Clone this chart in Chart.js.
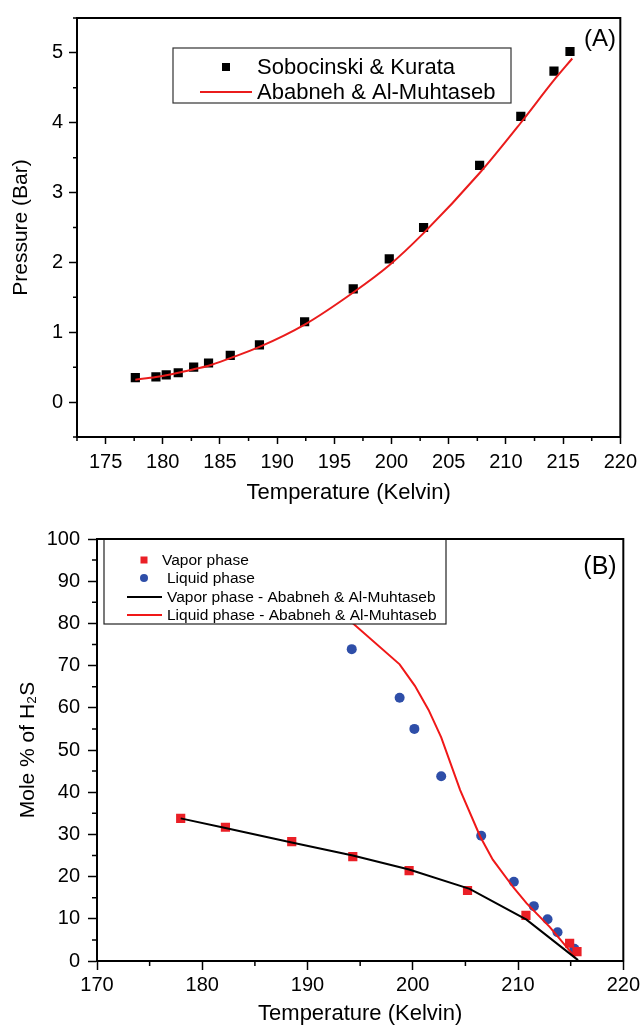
<!DOCTYPE html>
<html>
<head>
<meta charset="utf-8">
<script src="https://cdn.jsdelivr.net/npm/chart.js@4.4.1/dist/chart.umd.min.js"></script>
<style>
  body { margin: 0; background: #fff; }
  #wrapA { position: absolute; left: 0; top: 0; }
  #wrapB { position: absolute; left: 0; top: 510px; }
</style>
</head>
<body>
<div id="wrapA"><canvas id="chartA" width="643" height="510"></canvas></div>
<div id="wrapB"><canvas id="chartB" width="643" height="518"></canvas></div>

<script>
// ---------- (A) vapour pressure of H2S ----------
var tempA  = [177.6, 179.4, 180.3, 181.35, 182.7, 184.0, 185.9, 188.45, 192.4, 196.65, 199.8, 202.8, 207.7, 211.3, 214.2, 215.6];
var pressA = [0.35, 0.36, 0.39, 0.42, 0.50, 0.56, 0.67, 0.82, 1.15, 1.62, 2.05, 2.50, 3.39, 4.09, 4.74, 5.02];
var fitTA  = [177.6, 179.4, 180.3, 181.35, 182.7, 184.0, 185.9, 188.45, 192.4, 196.65, 199.8, 202.8, 207.7, 211.3, 214.2, 215.8];
var fitPA  = [0.32, 0.36, 0.385, 0.42, 0.47, 0.52, 0.63, 0.79, 1.11, 1.57, 1.96, 2.42, 3.28, 4.00, 4.61, 4.92];
var xTicksA = [175, 180, 185, 190, 195, 200, 205, 210, 215, 220];
var xMinorA = [172.5, 177.5, 182.5, 187.5, 192.5, 197.5, 202.5, 207.5, 212.5, 217.5];
var yTicksA = [0, 1, 2, 3, 4, 5];
var yMinorA = [-0.5, 0.5, 1.5, 2.5, 3.5, 4.5, 5.5];
var dataNameA = 'Sobocinski & Kurata';
var fitNameA  = 'Ababneh & Al-Muhtaseb';

// ---------- (B) vapour / liquid composition ----------
var vapT   = [177.95, 182.2, 188.5, 194.3, 199.65, 205.2, 210.75, 214.9, 215.6];
var vapY   = [33.8, 31.7, 28.3, 24.75, 21.4, 16.7, 10.8, 4.2, 2.2];
var liqT   = [194.2, 198.75, 200.15, 202.7, 206.5, 209.6, 211.5, 212.8, 213.75, 215.35];
var liqY   = [73.9, 62.4, 55.0, 43.8, 29.7, 18.8, 13.0, 9.9, 6.8, 2.9];
var vapModT = [177.95, 182.2, 188.5, 194.3, 199.65, 205.4, 210.8, 215.7];
var vapModY = [33.8, 31.5, 28.1, 25.0, 21.7, 17.1, 9.8, 0.2];
var liqModT = [193.0, 198.75, 200.2, 201.5, 202.7, 204.5, 206.4, 207.6, 209.6, 210.8, 213.0, 215.4];
var liqModY = [82.9, 70.3, 65.2, 59.5, 53.0, 40.5, 29.5, 24.0, 17.3, 13.7, 8.1, 1.0];
var xTicksB = [170, 180, 190, 200, 210, 220];
var xMinorB = [175, 185, 195, 205, 215];
var yTicksB = [0, 10, 20, 30, 40, 50, 60, 70, 80, 90, 100];
var yMinorB = [5, 15, 25, 35, 45, 55, 65, 75, 85, 95];
var namesB = ['Vapor phase', 'Liquid phase', 'Vapor phase - Ababneh & Al-Muhtaseb', 'Liquid phase - Ababneh & Al-Muhtaseb'];

var FONT = '"Liberation Sans", Arial, sans-serif';
Chart.defaults.font.family = FONT;
Chart.defaults.color = '#000';

function pts(xs, ys) {
  return xs.map(function (x, i) { return { x: x, y: ys[i] }; });
}
function fixTicks(list) {
  return function (s) { s.ticks = list.map(function (v) { return { value: v }; }); };
}

// box around the plot + short minor ticks
var framePlugin = {
  id: 'frame',
  afterDraw: function (chart, args, o) {
    var ctx = chart.ctx, a = chart.chartArea;
    var sx = chart.scales.x, sy = chart.scales.y;
    ctx.save();
    ctx.strokeStyle = '#000';
    ctx.lineWidth = 2;
    ctx.strokeRect(a.left, a.top, a.right - a.left, a.bottom - a.top);
    ctx.lineWidth = 1.5;
    ctx.beginPath();
    o.xMinor.forEach(function (v) {
      var px = sx.getPixelForValue(v);
      ctx.moveTo(px, a.bottom);
      ctx.lineTo(px, a.bottom + o.len);
    });
    o.yMinor.forEach(function (v) {
      var py = sy.getPixelForValue(v);
      ctx.moveTo(a.left, py);
      ctx.lineTo(a.left - o.len, py);
    });
    ctx.stroke();
    ctx.restore();
  }
};

// boxed legend and panel letter, drawn over the data
var boxLegend = {
  id: 'boxLegend',
  afterDatasetsDraw: function (chart, args, o) {
    var ctx = chart.ctx, b = o.box;
    ctx.save();
    ctx.fillStyle = '#fff';
    ctx.fillRect(b[0], b[1], b[2] - b[0], b[3] - b[1]);
    ctx.strokeStyle = o.edge;
    ctx.lineWidth = 1.2;
    ctx.strokeRect(b[0], b[1], b[2] - b[0], b[3] - b[1]);
    ctx.font = o.font;
    ctx.textBaseline = 'middle';
    ctx.textAlign = 'left';
    o.items.forEach(function (it) {
      ctx.fillStyle = it.color;
      ctx.strokeStyle = it.color;
      if (it.kind === 'rect') {
        ctx.fillRect(it.mx - it.size / 2, it.y - it.size / 2, it.size, it.size);
      } else if (it.kind === 'circle') {
        ctx.beginPath();
        ctx.arc(it.mx, it.y, it.size / 2, 0, Math.PI * 2);
        ctx.fill();
      } else {
        ctx.lineWidth = 2;
        ctx.beginPath();
        ctx.moveTo(it.x1, it.y);
        ctx.lineTo(it.x2, it.y);
        ctx.stroke();
      }
      ctx.fillStyle = '#000';
      ctx.fillText(it.text, it.tx, it.y + 1);
    });
    ctx.font = o.tagFont;
    ctx.textAlign = 'center';
    ctx.fillText(o.tag, o.tagX, o.tagY);
    ctx.restore();
  }
};

function axis(opts) {
  return {
    type: 'linear',
    min: opts.min, max: opts.max,
    afterBuildTicks: fixTicks(opts.ticks),
    afterFit: opts.fit,
    border: { display: true, color: '#000', width: 2 },
    grid: { display: true, drawOnChartArea: false, drawTicks: true, tickLength: opts.tickLen, tickColor: '#000', tickWidth: 1.5 },
    ticks: { color: '#000', font: { size: 20 }, padding: opts.pad, maxRotation: 0, autoSkip: false },
    title: { display: true, text: opts.title, color: '#000', font: { size: opts.titleSize }, padding: opts.titlePad }
  };
}

new Chart(document.getElementById('chartA'), {
  type: 'scatter',
  data: {
    datasets: [
      {
        label: fitNameA, data: pts(fitTA, fitPA), showLine: true, order: 0,
        borderColor: '#ea1c1c', borderWidth: 2, pointRadius: 0, cubicInterpolationMode: 'monotone'
      },
      {
        label: dataNameA, data: pts(tempA, pressA), order: 1,
        pointStyle: 'rect', pointRadius: 6.5, backgroundColor: '#000', borderWidth: 0
      }
    ]
  },
  options: {
    responsive: false, animation: false, events: [],
    layout: { padding: { top: 13, right: 20, left: 0, bottom: 0 } },
    plugins: {
      legend: { display: false }, tooltip: { enabled: false },
      frame: { xMinor: xMinorA, yMinor: yMinorA, len: 4 },
      boxLegend: {
        box: [173, 48, 511, 103], edge: '#333', font: '22px ' + FONT,
        items: [
          { kind: 'rect', color: '#000', mx: 226, y: 67, size: 8, tx: 257, text: dataNameA },
          { kind: 'line', color: '#ea1c1c', x1: 200, x2: 252, y: 92, tx: 257, text: fitNameA }
        ],
        tag: '(A)', tagFont: '24px ' + FONT, tagX: 600, tagY: 39
      }
    },
    scales: {
      x: axis({ min: 172.5, max: 220, ticks: xTicksA, tickLen: 7, pad: 6, title: 'Temperature (Kelvin)', titleSize: 22,
               titlePad: { top: 0, bottom: 4 }, fit: function (s) { s.height = 73; } }),
      y: axis({ min: -0.5, max: 5.5, ticks: yTicksA, tickLen: 8, pad: 6, title: 'Pressure (Bar)', titleSize: 21,
               titlePad: { top: 9, bottom: 0 }, fit: function (s) { s.width = 77; } })
    }
  },
  plugins: [framePlugin, boxLegend]
});

new Chart(document.getElementById('chartB'), {
  type: 'scatter',
  data: {
    datasets: [
      {
        label: namesB[2], data: pts(vapModT, vapModY), showLine: true, order: 0,
        borderColor: '#000', borderWidth: 2, pointRadius: 0
      },
      {
        label: namesB[3], data: pts(liqModT, liqModY), showLine: true, order: 0,
        borderColor: '#f01818', borderWidth: 2, pointRadius: 0
      },
      {
        label: namesB[0], data: pts(vapT, vapY), order: 1,
        pointStyle: 'rect', pointRadius: 6.5, backgroundColor: '#ea1f26', borderWidth: 0
      },
      {
        label: namesB[1], data: pts(liqT, liqY), order: 1,
        pointStyle: 'circle', pointRadius: 5, backgroundColor: '#2e4ea8', borderWidth: 0
      }
    ]
  },
  options: {
    responsive: false, animation: false, events: [],
    layout: { padding: { top: 29, right: 19, left: 0, bottom: 0 } },
    plugins: {
      legend: { display: false }, tooltip: { enabled: false },
      frame: { xMinor: xMinorB, yMinor: yMinorB, len: 5 },
      boxLegend: {
        box: [104, 29, 446, 114], edge: '#222', font: '15.5px ' + FONT,
        items: [
          { kind: 'rect', color: '#ea1f26', mx: 144, y: 50, size: 7, tx: 162, text: namesB[0] },
          { kind: 'circle', color: '#2e4ea8', mx: 144, y: 68, size: 8, tx: 167, text: namesB[1] },
          { kind: 'line', color: '#000', x1: 127, x2: 162, y: 87, tx: 167, text: namesB[2] },
          { kind: 'line', color: '#f01818', x1: 127, x2: 162, y: 105, tx: 167, text: namesB[3] }
        ],
        tag: '(B)', tagFont: '25px ' + FONT, tagX: 600, tagY: 57
      }
    },
    scales: {
      x: axis({ min: 170, max: 220, ticks: xTicksB, tickLen: 9, pad: 3, title: 'Temperature (Kelvin)', titleSize: 22,
               titlePad: { top: 0, bottom: 1 }, fit: function (s) { s.height = 67; } }),
      y: axis({ min: 0, max: 100, ticks: yTicksB, tickLen: 9, pad: 8, title: 'Mole % of H\u2082S', titleSize: 21,
               titlePad: { top: 16, bottom: 0 }, fit: function (s) { s.width = 97; } })
    }
  },
  plugins: [framePlugin, boxLegend]
});
</script>
</body>
</html>
